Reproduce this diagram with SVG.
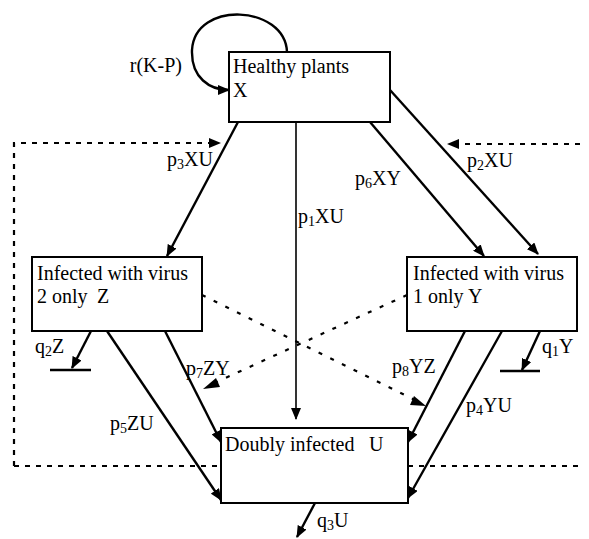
<svg xmlns="http://www.w3.org/2000/svg" width="589" height="539" viewBox="0 0 589 539">
<style>
.box{fill:#fff;stroke:#000;stroke-width:2}
.t{font-family:"Liberation Serif","Times New Roman",serif;font-size:20px;fill:#000}
.l{font-family:"Liberation Serif","Times New Roman",serif;font-size:20px;fill:#000}
.s{font-size:14px}
.a{fill:none;stroke:#000;stroke-width:2.4;marker-end:url(#ah)}
.thin{fill:none;stroke:#000;stroke-width:1.6;marker-end:url(#ah)}
.bar{stroke:#000;stroke-width:2.4}
.dash{fill:none;stroke:#000;stroke-width:2.2;stroke-dasharray:5 6}
.dot{fill:none;stroke:#000;stroke-width:2.2;stroke-dasharray:4 9}
</style>
<defs>
<marker id="ah" viewBox="0 0 12 10" refX="11" refY="5" markerWidth="12" markerHeight="10" markerUnits="userSpaceOnUse" orient="auto">
<path d="M0,0 L12,5 L0,10 z" fill="#000"/>
</marker>
</defs>
<g id="boundary">
<path class="dash" d="M14,466 V143 H210"/>
<path class="dash" d="M14,466 H221"/>
<path class="dash" d="M408,466 H580"/>
<path class="dash" d="M580,144 H458"/>
<path d="M209,138 L221,143 L209,148 z" fill="#000"/>
<path d="M459,139 L447,144 L459,149 z" fill="#000"/>
</g>
<g id="connectors">
<path class="a" d="M287,52 C285,5 195,0 192,50 C191,78 210,90 229,90"/>
<path class="a" d="M238,122 L167,256"/>
<path class="thin" d="M296,122 V419"/>
<path class="a" d="M370,122 L484,256"/>
<path class="a" d="M390,90 L538,254"/>
<path class="a" d="M91,331 L72,368"/>
<line class="bar" x1="50" y1="370" x2="91" y2="370"/>
<path class="a" d="M107,331 L221,500"/>
<path class="a" d="M165,331 L221,442"/>
<path class="a" d="M465,331 L408,442"/>
<path class="a" d="M502,331 L408,498"/>
<path class="a" d="M540,331 L522,370"/>
<line class="bar" x1="500" y1="371" x2="540" y2="371"/>
<path class="a" d="M315,503 L297,537"/>
<path class="dot" d="M202,295 L419,402"/>
<path d="M414,396 L426,406 L410,405 z" fill="#000"/>
<path class="dot" d="M407,295 L210,385"/>
<path d="M216,378 L203,389 L220,387 z" fill="#000"/>
</g>
<g id="labels">
<text class="l" x="182" y="72" text-anchor="end">r(K-P)</text>
<text class="l" x="167" y="166">p<tspan class="s" dy="3">3</tspan><tspan dy="-3">XU</tspan></text>
<text class="l" x="467" y="167">p<tspan class="s" dy="3">2</tspan><tspan dy="-3">XU</tspan></text>
<text class="l" x="355" y="185">p<tspan class="s" dy="3">6</tspan><tspan dy="-3">XY</tspan></text>
<text class="l" x="298" y="223">p<tspan class="s" dy="3">1</tspan><tspan dy="-3">XU</tspan></text>
<text class="l" x="35" y="353">q<tspan class="s" dy="3">2</tspan><tspan dy="-3">Z</tspan></text>
<text class="l" x="542" y="353">q<tspan class="s" dy="3">1</tspan><tspan dy="-3">Y</tspan></text>
<text class="l" x="186" y="375">p<tspan class="s" dy="3">7</tspan><tspan dy="-3">ZY</tspan></text>
<text class="l" x="392" y="373">p<tspan class="s" dy="3">8</tspan><tspan dy="-3">YZ</tspan></text>
<text class="l" x="110" y="430">p<tspan class="s" dy="3">5</tspan><tspan dy="-3">ZU</tspan></text>
<text class="l" x="466" y="412">p<tspan class="s" dy="3">4</tspan><tspan dy="-3">YU</tspan></text>
<text class="l" x="317" y="527">q<tspan class="s" dy="3">3</tspan><tspan dy="-3">U</tspan></text>
</g>
<g id="X">
<rect class="box" x="229" y="52" width="161" height="70"/>
<text class="t" x="233" y="73">Healthy plants</text>
<text class="t" x="233" y="97">X</text>
</g>
<g id="Z">
<rect class="box" x="32" y="257" width="170" height="74"/>
<text class="t" x="37" y="280">Infected with virus</text>
<text class="t" x="37" y="303">2 only</text>
<text class="t" x="97" y="303">Z</text>
</g>
<g id="Y">
<rect class="box" x="407" y="257" width="170" height="74"/>
<text class="t" x="413" y="280">Infected with virus</text>
<text class="t" x="413" y="303">1 only</text>
<text class="t" x="468" y="303">Y</text>
</g>
<g id="U">
<rect class="box" x="221" y="428" width="187" height="75"/>
<text class="t" x="225" y="451">Doubly infected</text>
<text class="t" x="369" y="451">U</text>
</g>
</svg>
